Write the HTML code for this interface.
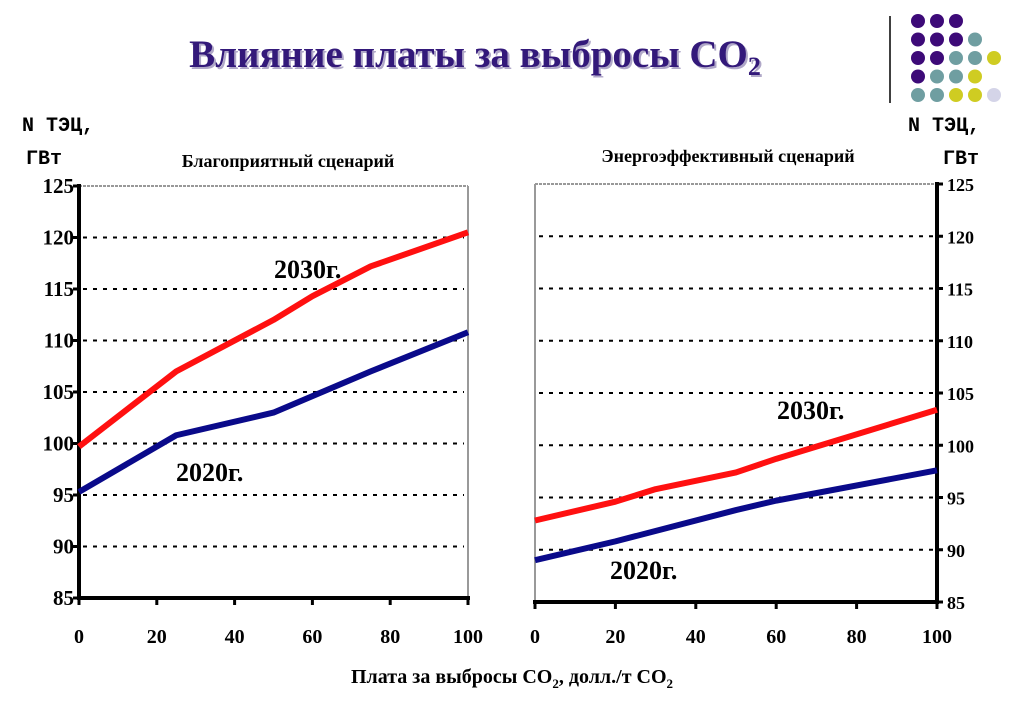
<!DOCTYPE html>
<html><head><meta charset="utf-8"><style>
body{margin:0;background:#fff;width:1023px;height:708px;overflow:hidden}
svg text{font-family:"Liberation Serif",serif;font-weight:bold}
</style></head><body>
<svg id="s" width="1023" height="708" xmlns="http://www.w3.org/2000/svg">
<defs><clipPath id="dc"><rect x="900" y="0" width="123" height="103"/></clipPath></defs>
<text x="475" y="67" text-anchor="middle" font-size="39" fill="#b0a8c8" transform="translate(2,2)">Влияние платы за выбросы CO<tspan font-size="26" dy="8">2</tspan></text>
<text x="475" y="67" text-anchor="middle" font-size="39" fill="#33197a">Влияние платы за выбросы CO<tspan font-size="26" dy="8">2</tspan></text>
<line x1="890" y1="16" x2="890" y2="103" stroke="#000" stroke-width="1.5"/>
<g id="dots" clip-path="url(#dc)"></g>
<text x="22" y="131" style="font-family:'Liberation Mono',monospace" font-size="20">N ТЭЦ,</text>
<text x="26" y="164" style="font-family:'Liberation Mono',monospace" font-size="20">ГВт</text>
<text x="908" y="131" style="font-family:'Liberation Mono',monospace" font-size="20">N ТЭЦ,</text>
<text x="943" y="164" style="font-family:'Liberation Mono',monospace" font-size="20">ГВт</text>
<text x="288" y="167" text-anchor="middle" font-size="18">Благоприятный сценарий</text>
<text x="728" y="162" text-anchor="middle" font-size="18">Энергоэффективный сценарий</text>
<text x="512" y="683" text-anchor="middle" font-size="20">Плата за выбросы CO<tspan font-size="13" dy="5">2</tspan><tspan dy="-5">, долл./т  CO</tspan><tspan font-size="13" dy="5">2</tspan></text>
<g id="c1"></g><g id="c2"></g>
</svg>
<script>
const yTicks=[85,90,95,100,105,110,115,120,125];
const xTicks=[0,20,40,60,80,100];
const leftX2030=[0,25,50,60,75,100];
const left2030=[99.7,107,112,114.3,117.2,120.5];
const leftX2020=[0,25,50,75,100];
const left2020=[95.3,100.8,103,107,110.8];
const rightX2030=[0,20,30,50,60,100];
const right2030=[92.8,94.6,95.8,97.4,98.7,103.4];
const rightX2020=[0,20,50,60,100];
const right2020=[89,90.8,93.8,94.7,97.6];
const NS='http://www.w3.org/2000/svg';
function mk(p,t,a){const e=document.createElementNS(NS,t);for(const k in a)e.setAttribute(k,a[k]);p.appendChild(e);return e;}
const dg=document.getElementById('dots');
const dotRows=[['p','p','p'],['p','p','p','t'],['p','p','t','t','y'],['p','t','t','y'],['t','t','y','y','l'],['t','y','y','l']];
const col={p:'#3d0a78',t:'#6f9ea1',y:'#cfcc22',l:'#d4d4e8'};
dotRows.forEach((r,i)=>r.forEach((c,j)=>{const d=mk(dg,'circle',{cx:918+j*19,cy:21+i*18.5,r:7,fill:col[c]});

}));
function chart(g,x0,x1,y0,y1,axisRight,series){
 const X=v=>x0+(v/100)*(x1-x0), Y=v=>y0-(v-85)/40*(y0-y1);
 const ax=axisRight?x1:x0, other=axisRight?x0:x1;
 mk(g,'line',{x1:x0,y1:y1,x2:x1,y2:y1,stroke:'#999','stroke-width':2,'stroke-dasharray':'3 1'});
 mk(g,'line',{x1:other,y1:y1,x2:other,y2:y0,stroke:'#999','stroke-width':2});
 yTicks.forEach(v=>{
  if(v>85&&v<125){const l=mk(g,'line',{x1:x0+4,y1:Y(v),x2:x1-4,y2:Y(v),stroke:'#000','stroke-width':2,'stroke-dasharray':'4 6'});
  
  }
  mk(g,'line',{x1:axisRight?ax:ax-6,y1:Y(v),x2:axisRight?ax+6:ax,y2:Y(v),stroke:'#000','stroke-width':3});
  const t=mk(g,'text',{x:axisRight?ax+10:ax-5,y:Y(v)+7,'text-anchor':axisRight?'start':'end','font-size':axisRight?18:21});
  t.textContent=v;
  
  
 });
 xTicks.forEach(v=>{
  mk(g,'line',{x1:X(v),y1:y0,x2:X(v),y2:y0+7,stroke:'#000','stroke-width':3});
  const t=mk(g,'text',{x:X(v),y:643,'text-anchor':'middle','font-size':20});
  t.textContent=v;
  
  
 });
 mk(g,'line',{x1:ax,y1:y1-2,x2:ax,y2:y0+2,stroke:'#000','stroke-width':4});
 mk(g,'line',{x1:x0-2,y1:y0,x2:x1+2,y2:y0,stroke:'#000','stroke-width':4});
 series.forEach(s=>{
  const p=mk(g,'polyline',{points:s.x.map((v,i)=>X(v)+','+Y(s.y[i])).join(' '),fill:'none',stroke:s.c,'stroke-width':6,'stroke-linejoin':'round'});
  
  
 });
}
chart(document.getElementById('c1'),79,468,598,186,false,[
 {x:leftX2020,y:left2020,c:'#0a0a8a',n:'line-2020-favorable'},{x:leftX2030,y:left2030,c:'#ff1010',n:'line-2030-favorable'}]);
chart(document.getElementById('c2'),535,937,602,184,true,[
 {x:rightX2020,y:right2020,c:'#0a0a8a',n:'line-2020-efficient'},{x:rightX2030,y:right2030,c:'#ff1010',n:'line-2030-efficient'}]);
const labels=[[274,278,'2030г.','label-2030-left'],[176,481,'2020г.','label-2020-left'],[777,419,'2030г.','label-2030-right'],[610,579,'2020г.','label-2020-right']];
labels.forEach(l=>{const t=mk(document.getElementById('s'),'text',{x:l[0],y:l[1],'font-size':26});t.textContent=l[2];

});
</script>
</body></html>
